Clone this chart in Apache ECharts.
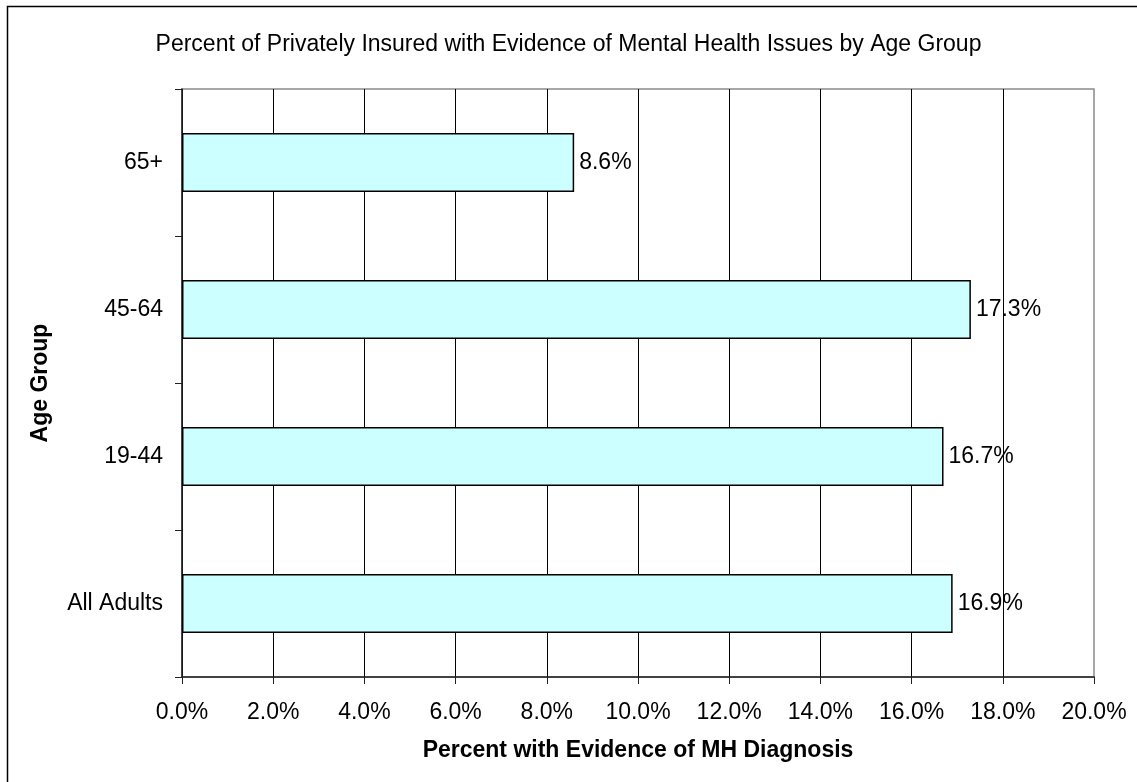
<!DOCTYPE html>
<html>
<head>
<meta charset="utf-8">
<script src="https://cdn.jsdelivr.net/npm/echarts@6/dist/echarts.min.js"></script>
<style>
html,body{margin:0;padding:0;background:#fff;}
#chart{width:1137px;height:782px;}
</style>
</head>
<body>
<div id="chart"></div>
<script>
const categories = ['All Adults', '19-44', '45-64', '65+'];
const values = [16.9, 16.7, 17.3, 8.6];
const titleText = 'Percent of Privately Insured with Evidence of Mental Health Issues by Age Group';
const xAxisName = 'Percent with Evidence of MH Diagnosis';
const yAxisName = 'Age Group';

const font = 'Liberation Sans, Arial, sans-serif';
const fs = 23;
const chart = echarts.init(document.getElementById('chart'));
chart.setOption({
  backgroundColor: '#fff',
  animation: false,
  title: {
    text: titleText,
    left: 'center',
    top: 28,
    textStyle: { fontFamily: font, fontSize: fs, fontWeight: 'normal', color: '#000' }
  },
  graphic: [{
    type: 'rect',
    shape: { x: 7.5, y: 6.5, width: 1200, height: 900 },
    style: { fill: 'none', stroke: '#000', lineWidth: 1.5 },
    silent: true
  }],
  grid: {
    left: 182, right: 43, top: 89, bottom: 105,
    show: true, borderColor: '#8a8a8a', borderWidth: 1.5, backgroundColor: 'transparent'
  },
  xAxis: {
    type: 'value',
    min: 0, max: 20, interval: 2,
    name: xAxisName,
    nameLocation: 'middle',
    nameGap: 62,
    nameTextStyle: { fontFamily: font, fontSize: fs, fontWeight: 'bold', color: '#000' },
    axisLine: { show: true, lineStyle: { color: '#222', width: 1.5 } },
    axisTick: { show: true, length: 7, lineStyle: { color: '#222' } },
    axisLabel: { fontFamily: font, fontSize: fs, color: '#000', margin: 24,
      formatter: v => v.toFixed(1) + '%' },
    splitLine: { show: true, showMaxLine: false, lineStyle: { color: '#000', width: 1 } }
  },
  yAxis: {
    type: 'category',
    data: categories,
    name: yAxisName,
    nameLocation: 'middle',
    nameGap: 130,
    nameRotate: 90,
    nameTextStyle: { fontFamily: font, fontSize: fs, fontWeight: 'bold', color: '#000' },
    axisLine: { show: true, lineStyle: { color: '#222', width: 1.5 } },
    axisTick: { show: true, length: 7, alignWithLabel: false, lineStyle: { color: '#222' } },
    axisLabel: { fontFamily: font, fontSize: fs, color: '#000', margin: 19 },
    splitLine: { show: false }
  },
  series: [{
    type: 'bar',
    data: values,
    barWidth: 59,
    itemStyle: { color: '#ccffff', borderColor: '#000', borderWidth: 1.5 },
    label: {
      show: true, position: 'right', distance: 5,
      fontFamily: font, fontSize: fs, color: '#000',
      formatter: p => p.value.toFixed(1) + '%'
    }
  }]
});
</script>
</body>
</html>
